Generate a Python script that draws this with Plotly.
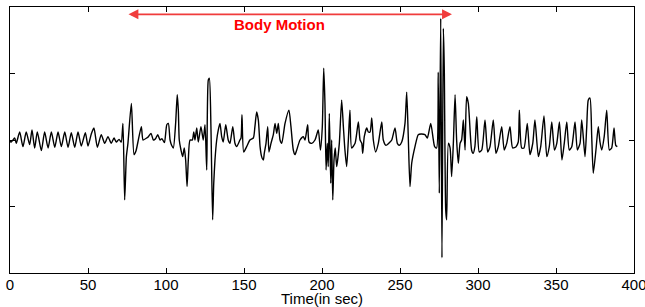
import plotly.graph_objects as go

# Time (s) and normalized amplitude
time_s = [0.0, 0.8, 3.0, 4.0, 6.2, 8.3, 10.4, 12.6, 14.1, 15.8, 17.5, 20.1, 22.2, 24.4, 26.5, 28.7, 30.8,
          32.9, 35.1, 37.2, 39.3, 41.5, 43.6, 45.7, 48.3, 50.0, 52.1, 53.8, 56.0, 58.5, 60.7, 62.8, 64.9,
          66.7, 68.1, 69.9, 71.3, 72.4, 73.5, 74.6, 75.6, 77.8, 79.5, 80.8, 82.0, 84.2, 85.3, 87.6, 88.7,
          90.4, 91.9, 93.3, 94.7, 96.2, 97.4, 99.0, 100.5, 101.5, 102.6, 103.6, 104.7, 106.2, 107.2, 107.9,
          108.5, 109.6, 110.7, 111.7, 112.6, 113.5, 114.3, 115.4, 116.9, 117.8, 118.6, 119.7, 120.7, 122.4,
          123.9, 125.0, 126.1, 127.1, 127.8, 128.8, 129.9, 130.6, 131.4, 132.5, 133.5, 134.6, 135.7, 136.7,
          138.3, 139.9, 141.0, 142.8, 144.2, 145.3, 147.4, 148.1, 148.7, 149.8, 151.7, 153.8, 156.0, 157.0,
          158.1, 159.2, 160.3, 161.3, 162.4, 163.0, 164.1, 165.2, 166.0, 167.3, 168.8, 169.9, 171.0, 172.0,
          173.1, 174.2, 176.3, 178.8, 180.1, 181.6, 182.7, 183.8, 185.9, 188.0, 189.1, 190.8, 191.7, 193.4,
          195.5, 197.6, 199.0, 200.2, 201.1, 201.9, 202.6, 203.4, 204.0, 204.7, 205.6, 206.2, 206.9, 207.7,
          208.5, 209.4, 211.1, 212.6, 213.7, 214.7, 215.8, 216.9, 217.9, 219.0, 221.2, 223.3, 224.4, 225.5,
          226.1, 227.1, 228.7, 229.7, 230.8, 231.9, 232.9, 234.4, 236.1, 238.3, 239.3, 241.0, 243.6, 244.7,
          246.8, 248.3, 249.6, 251.1, 253.2, 254.3, 255.3, 256.4, 257.5, 259.6, 261.7, 263.5, 266.0, 267.5,
          269.7, 271.2, 272.2, 273.5, 274.5, 275.2, 276.1, 276.9, 277.8, 278.4, 279.3, 279.9, 281.0, 282.1,
          283.1, 284.2, 285.3, 286.3, 287.4, 288.5, 289.5, 290.6, 291.7, 292.7, 293.8, 295.9, 296.9, 298.0,
          299.2, 300.8, 302.4, 304.5, 306.2, 307.7, 309.8, 311.5, 313.0, 315.2, 316.8, 318.4, 320.5, 322.2,
          324.4, 325.8, 326.5, 328.0, 329.5, 331.6, 333.3, 335.1, 336.5, 338.7, 340.2, 342.3, 344.1, 345.7,
          347.3, 349.0, 350.5, 352.2, 353.8, 355.3, 356.9, 358.5, 360.1, 362.2, 363.7, 365.4, 366.5, 368.6,
          369.7, 370.7, 371.8, 372.9, 373.9, 375.6, 377.1, 378.2, 379.3, 380.9, 382.5, 384.2, 385.7, 387.2,
          388.3, 389.3]

amplitude = [-0.02, -0.03, 0.03, -0.05, 0.12, -0.10, 0.12, -0.07, 0.15, -0.12, 0.12, -0.16, 0.12, -0.12,
             0.12, -0.11, 0.12, -0.10, 0.12, -0.11, 0.11, -0.11, 0.12, -0.09, 0.11, -0.09, 0.09, 0.18, -0.11,
             0.08, -0.05, 0.05, -0.05, 0.03, -0.03, 0.01, -0.03, 0.25, -0.90, -0.25, -0.05, 0.55, -0.22, -0.16,
             -0.03, 0.20, 0.0, 0.03, 0.05, 0.10, 0.0, 0.02, 0.08, 0.0, 0.02, -0.04, 0.23, 0.25, 0.0, -0.08,
             -0.12, 0.26, 0.68, 0.45, 0.0, -0.15, -0.25, -0.12, -0.30, -0.70, -0.30, 0.0, 0.0, 0.12, 0.0, 0.18,
             -0.03, 0.20, 0.0, 0.23, -0.45, 0.90, 0.93, 0.20, -1.20, -0.65, -0.30, 0.0, 0.15, 0.25, 0.05, -0.03,
             0.23, 0.0, -0.05, 0.20, -0.05, -0.10, 0.0, 0.03, 0.38, -0.18, -0.10, 0.0, 0.03, 0.20, 0.42, 0.30,
             -0.10, -0.25, -0.30, -0.20, -0.05, 0.20, -0.18, -0.05, 0.08, 0.25, 0.10, 0.25, 0.0, -0.05, 0.25,
             0.45, 0.20, -0.15, -0.22, -0.15, 0.0, 0.05, 0.0, 0.23, -0.03, -0.05, 0.0, 0.15, -0.15, 0.20, 1.08,
             0.55, -0.45, -0.05, -0.40, 0.40, -0.65, 0.0, -0.90, -0.30, -0.12, -0.40, -0.05, 0.60, 0.20, -0.15,
             -0.40, 0.0, 0.45, -0.12, -0.05, 0.27, 0.0, -0.05, -0.20, 0.05, 0.18, 0.12, 0.12, 0.33, 0.0, -0.18,
             -0.05, 0.27, 0.0, -0.08, -0.03, 0.0, 0.18, -0.05, -0.08, -0.03, 0.25, 0.72, 0.05, -0.70, -0.35,
             -0.10, 0.08, 0.09, 0.08, 0.03, 0.25, 0.03, -0.10, -0.12, 1.02, -0.80, 1.83, -1.77, 1.68, 1.05,
             -1.05, -1.20, -0.05, -0.12, -0.55, -0.05, 0.68, 0.0, -0.35, -0.05, 0.0, 0.30, -0.15, 0.65, 0.55,
             -0.15, -0.20, -0.10, 0.35, -0.18, -0.15, 0.30, -0.18, -0.10, 0.30, -0.20, -0.10, 0.20, -0.15,
             -0.05, 0.20, -0.12, -0.10, -0.03, 0.45, -0.12, -0.12, 0.25, -0.22, -0.05, 0.30, -0.25, -0.10,
             0.36, -0.25, -0.10, 0.27, -0.15, -0.05, 0.27, -0.30, -0.05, 0.27, -0.15, -0.10, 0.27, -0.15,
             -0.05, 0.30, -0.25, 0.20, 0.60, 0.63, 0.05, -0.50, -0.15, 0.20, -0.03, -0.15, 0.05, 0.45, -0.15,
             -0.12, 0.18, -0.08, -0.10]

x_ticks = [0, 50, 100, 150, 200, 250, 300, 350, 400]
motion_start, motion_end = 75, 283.3
motion_label = "Body Motion"
label_time = 173

fig = go.Figure()
fig.add_trace(go.Scatter(x=time_s, y=amplitude, mode="lines",
                         line=dict(color="black", width=1.4, shape="spline", smoothing=0.6),
                         showlegend=False, hoverinfo="skip"))

# double-headed arrow marking body motion
fig.add_annotation(x=motion_end, y=1.89, ax=motion_start, ay=1.89, xref="x", yref="y",
                   axref="x", ayref="y", text="", showarrow=True, arrowside="end+start",
                   arrowhead=2, arrowsize=1.1, arrowwidth=1.8, arrowcolor="#f03c3c",
                   standoff=0, startstandoff=0)
fig.add_annotation(x=label_time, y=1.74, xref="x", yref="y",
                   text="<b>" + motion_label + "</b>", showarrow=False,
                   font=dict(family="Liberation Sans, Arial", size=15, color="#ff0000"))

fig.update_layout(
    width=645, height=307,
    margin=dict(l=10, r=11, t=7, b=34),
    paper_bgcolor="white", plot_bgcolor="white",
    font=dict(family="Liberation Sans, Arial", size=15, color="black"),
)
fig.update_xaxes(range=[0, 400], tickvals=x_ticks, ticktext=[str(v) for v in x_ticks],
                 showline=True, mirror="ticks", linecolor="black", linewidth=1,
                 ticks="inside", ticklen=5, tickcolor="black", showgrid=False, zeroline=False,
                 tickfont=dict(size=15), automargin=False, ticklabelstandoff=-2,
                 ticklabeloverflow="allow",
                 title=dict(text="Time(in sec)", font=dict(size=15), standoff=0))
fig.update_yaxes(range=[-2, 2], tickvals=[-1, 0, 1], showticklabels=False,
                 showline=True, mirror="ticks", linecolor="black", linewidth=1,
                 ticks="inside", ticklen=5, tickcolor="black", showgrid=False, zeroline=False,
                 automargin=False)

fig.write_html("out.html", config={"displayModeBar": False},
               post_script="document.body.style.margin='0';")
